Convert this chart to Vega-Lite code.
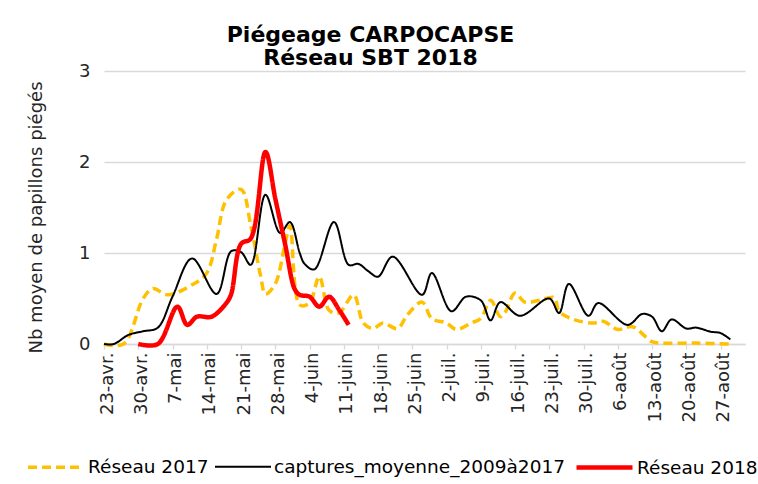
{
  "$schema": "https://vega.github.io/schema/vega-lite/v6.json",
  "autosize": {"type": "none"},
  "width": 641,
  "height": 273,
  "padding": {"left": 104, "top": 71, "right": 13, "bottom": 140},
  "background": "white",
  "config": {"view": {"stroke": null}, "font": "DejaVu Sans"},
  "title": {
    "text": ["Piégeage CARPOCAPSE", "Réseau SBT 2018"],
    "fontSize": 22,
    "fontWeight": "bold",
    "font": "DejaVu Sans",
    "color": "#000000",
    "anchor": "middle",
    "dx": -54,
    "offset": -8,
    "lineHeight": 23
  },
  "data": {
    "values": [
      {"date": "2018-04-23", "serie": "Réseau 2017", "value": 0},
      {"date": "2018-04-27", "serie": "Réseau 2017", "value": 0},
      {"date": "2018-05-01", "serie": "Réseau 2017", "value": 0.5},
      {"date": "2018-05-03", "serie": "Réseau 2017", "value": 0.61},
      {"date": "2018-05-06", "serie": "Réseau 2017", "value": 0.54},
      {"date": "2018-05-11", "serie": "Réseau 2017", "value": 0.65},
      {"date": "2018-05-14", "serie": "Réseau 2017", "value": 0.78},
      {"date": "2018-05-16", "serie": "Réseau 2017", "value": 1.15},
      {"date": "2018-05-18", "serie": "Réseau 2017", "value": 1.58},
      {"date": "2018-05-21", "serie": "Réseau 2017", "value": 1.7},
      {"date": "2018-05-23", "serie": "Réseau 2017", "value": 1.3},
      {"date": "2018-05-25", "serie": "Réseau 2017", "value": 0.75},
      {"date": "2018-05-26", "serie": "Réseau 2017", "value": 0.55},
      {"date": "2018-05-28", "serie": "Réseau 2017", "value": 0.66},
      {"date": "2018-05-30", "serie": "Réseau 2017", "value": 1.1},
      {"date": "2018-05-31", "serie": "Réseau 2017", "value": 1.3},
      {"date": "2018-06-02", "serie": "Réseau 2017", "value": 0.43},
      {"date": "2018-06-04", "serie": "Réseau 2017", "value": 0.45},
      {"date": "2018-06-06", "serie": "Réseau 2017", "value": 0.74},
      {"date": "2018-06-08", "serie": "Réseau 2017", "value": 0.37},
      {"date": "2018-06-10", "serie": "Réseau 2017", "value": 0.34},
      {"date": "2018-06-13", "serie": "Réseau 2017", "value": 0.54},
      {"date": "2018-06-15", "serie": "Réseau 2017", "value": 0.23},
      {"date": "2018-06-17", "serie": "Réseau 2017", "value": 0.17},
      {"date": "2018-06-19", "serie": "Réseau 2017", "value": 0.23},
      {"date": "2018-06-22", "serie": "Réseau 2017", "value": 0.17},
      {"date": "2018-06-24", "serie": "Réseau 2017", "value": 0.32},
      {"date": "2018-06-27", "serie": "Réseau 2017", "value": 0.46},
      {"date": "2018-06-29", "serie": "Réseau 2017", "value": 0.28},
      {"date": "2018-07-02", "serie": "Réseau 2017", "value": 0.23},
      {"date": "2018-07-04", "serie": "Réseau 2017", "value": 0.16},
      {"date": "2018-07-07", "serie": "Réseau 2017", "value": 0.23},
      {"date": "2018-07-09", "serie": "Réseau 2017", "value": 0.28},
      {"date": "2018-07-11", "serie": "Réseau 2017", "value": 0.48},
      {"date": "2018-07-13", "serie": "Réseau 2017", "value": 0.3},
      {"date": "2018-07-14", "serie": "Réseau 2017", "value": 0.35},
      {"date": "2018-07-16", "serie": "Réseau 2017", "value": 0.56},
      {"date": "2018-07-18", "serie": "Réseau 2017", "value": 0.46},
      {"date": "2018-07-21", "serie": "Réseau 2017", "value": 0.48},
      {"date": "2018-07-24", "serie": "Réseau 2017", "value": 0.51},
      {"date": "2018-07-25", "serie": "Réseau 2017", "value": 0.36},
      {"date": "2018-07-28", "serie": "Réseau 2017", "value": 0.27},
      {"date": "2018-08-01", "serie": "Réseau 2017", "value": 0.23},
      {"date": "2018-08-03", "serie": "Réseau 2017", "value": 0.25},
      {"date": "2018-08-06", "serie": "Réseau 2017", "value": 0.16},
      {"date": "2018-08-09", "serie": "Réseau 2017", "value": 0.19},
      {"date": "2018-08-13", "serie": "Réseau 2017", "value": 0.025},
      {"date": "2018-08-15", "serie": "Réseau 2017", "value": 0.01},
      {"date": "2018-08-22", "serie": "Réseau 2017", "value": 0.01},
      {"date": "2018-08-29", "serie": "Réseau 2017", "value": 0.0},

      {"date": "2018-04-23", "serie": "captures_moyenne_2009à2017", "value": 0},
      {"date": "2018-04-25", "serie": "captures_moyenne_2009à2017", "value": 0},
      {"date": "2018-04-28", "serie": "captures_moyenne_2009à2017", "value": 0.1},
      {"date": "2018-05-01", "serie": "captures_moyenne_2009à2017", "value": 0.14},
      {"date": "2018-05-04", "serie": "captures_moyenne_2009à2017", "value": 0.18},
      {"date": "2018-05-07", "serie": "captures_moyenne_2009à2017", "value": 0.52},
      {"date": "2018-05-11", "serie": "captures_moyenne_2009à2017", "value": 0.94},
      {"date": "2018-05-16", "serie": "captures_moyenne_2009à2017", "value": 0.55},
      {"date": "2018-05-19", "serie": "captures_moyenne_2009à2017", "value": 1.02},
      {"date": "2018-05-21", "serie": "captures_moyenne_2009à2017", "value": 1.01},
      {"date": "2018-05-23", "serie": "captures_moyenne_2009à2017", "value": 0.87},
      {"date": "2018-05-26", "serie": "captures_moyenne_2009à2017", "value": 1.64},
      {"date": "2018-05-29", "serie": "captures_moyenne_2009à2017", "value": 1.22},
      {"date": "2018-05-31", "serie": "captures_moyenne_2009à2017", "value": 1.34},
      {"date": "2018-06-02", "serie": "captures_moyenne_2009à2017", "value": 1.0},
      {"date": "2018-06-03", "serie": "captures_moyenne_2009à2017", "value": 0.88},
      {"date": "2018-06-05", "serie": "captures_moyenne_2009à2017", "value": 0.82},
      {"date": "2018-06-09", "serie": "captures_moyenne_2009à2017", "value": 1.34},
      {"date": "2018-06-12", "serie": "captures_moyenne_2009à2017", "value": 0.87},
      {"date": "2018-06-14", "serie": "captures_moyenne_2009à2017", "value": 0.88},
      {"date": "2018-06-16", "serie": "captures_moyenne_2009à2017", "value": 0.8},
      {"date": "2018-06-18", "serie": "captures_moyenne_2009à2017", "value": 0.74},
      {"date": "2018-06-21", "serie": "captures_moyenne_2009à2017", "value": 0.96},
      {"date": "2018-06-27", "serie": "captures_moyenne_2009à2017", "value": 0.54},
      {"date": "2018-06-29", "serie": "captures_moyenne_2009à2017", "value": 0.78},
      {"date": "2018-07-03", "serie": "captures_moyenne_2009à2017", "value": 0.36},
      {"date": "2018-07-06", "serie": "captures_moyenne_2009à2017", "value": 0.52},
      {"date": "2018-07-09", "serie": "captures_moyenne_2009à2017", "value": 0.48},
      {"date": "2018-07-11", "serie": "captures_moyenne_2009à2017", "value": 0.26},
      {"date": "2018-07-13", "serie": "captures_moyenne_2009à2017", "value": 0.46},
      {"date": "2018-07-17", "serie": "captures_moyenne_2009à2017", "value": 0.31},
      {"date": "2018-07-23", "serie": "captures_moyenne_2009à2017", "value": 0.5},
      {"date": "2018-07-25", "serie": "captures_moyenne_2009à2017", "value": 0.34},
      {"date": "2018-07-27", "serie": "captures_moyenne_2009à2017", "value": 0.66},
      {"date": "2018-07-31", "serie": "captures_moyenne_2009à2017", "value": 0.31},
      {"date": "2018-08-02", "serie": "captures_moyenne_2009à2017", "value": 0.45},
      {"date": "2018-08-08", "serie": "captures_moyenne_2009à2017", "value": 0.21},
      {"date": "2018-08-11", "serie": "captures_moyenne_2009à2017", "value": 0.33},
      {"date": "2018-08-13", "serie": "captures_moyenne_2009à2017", "value": 0.3},
      {"date": "2018-08-15", "serie": "captures_moyenne_2009à2017", "value": 0.14},
      {"date": "2018-08-17", "serie": "captures_moyenne_2009à2017", "value": 0.27},
      {"date": "2018-08-20", "serie": "captures_moyenne_2009à2017", "value": 0.17},
      {"date": "2018-08-22", "serie": "captures_moyenne_2009à2017", "value": 0.18},
      {"date": "2018-08-25", "serie": "captures_moyenne_2009à2017", "value": 0.135},
      {"date": "2018-08-27", "serie": "captures_moyenne_2009à2017", "value": 0.12},
      {"date": "2018-08-29", "serie": "captures_moyenne_2009à2017", "value": 0.05},

      {"date": "2018-04-30", "serie": "Réseau 2018", "value": 0.0},
      {"date": "2018-05-04", "serie": "Réseau 2018", "value": 0.0},
      {"date": "2018-05-08", "serie": "Réseau 2018", "value": 0.41},
      {"date": "2018-05-10", "serie": "Réseau 2018", "value": 0.21},
      {"date": "2018-05-12", "serie": "Réseau 2018", "value": 0.3},
      {"date": "2018-05-15", "serie": "Réseau 2018", "value": 0.3},
      {"date": "2018-05-18", "serie": "Réseau 2018", "value": 0.45},
      {"date": "2018-05-19", "serie": "Réseau 2018", "value": 0.55},
      {"date": "2018-05-21", "serie": "Réseau 2018", "value": 1.1},
      {"date": "2018-05-23", "serie": "Réseau 2018", "value": 1.16},
      {"date": "2018-05-26", "serie": "Réseau 2018", "value": 2.11},
      {"date": "2018-05-28", "serie": "Réseau 2018", "value": 1.6},
      {"date": "2018-05-30", "serie": "Réseau 2018", "value": 1.1},
      {"date": "2018-06-01", "serie": "Réseau 2018", "value": 0.6},
      {"date": "2018-06-02", "serie": "Réseau 2018", "value": 0.54},
      {"date": "2018-06-04", "serie": "Réseau 2018", "value": 0.52},
      {"date": "2018-06-06", "serie": "Réseau 2018", "value": 0.41},
      {"date": "2018-06-08", "serie": "Réseau 2018", "value": 0.52},
      {"date": "2018-06-10", "serie": "Réseau 2018", "value": 0.38},
      {"date": "2018-06-12", "serie": "Réseau 2018", "value": 0.21}
    ]
  },
  "encoding": {
    "x": {
      "field": "date",
      "type": "temporal",
      "scale": {
        "type": "utc",
        "domain": [
          {"year": 2018, "month": 4, "date": 23, "utc": true},
          {"year": 2018, "month": 9, "date": 1, "utc": true}
        ]
      },
      "axis": {
        "title": null,
        "grid": false,
        "values": [
          {"year": 2018, "month": 4, "date": 23, "utc": true},
          {"year": 2018, "month": 4, "date": 30, "utc": true},
          {"year": 2018, "month": 5, "date": 7, "utc": true},
          {"year": 2018, "month": 5, "date": 14, "utc": true},
          {"year": 2018, "month": 5, "date": 21, "utc": true},
          {"year": 2018, "month": 5, "date": 28, "utc": true},
          {"year": 2018, "month": 6, "date": 4, "utc": true},
          {"year": 2018, "month": 6, "date": 11, "utc": true},
          {"year": 2018, "month": 6, "date": 18, "utc": true},
          {"year": 2018, "month": 6, "date": 25, "utc": true},
          {"year": 2018, "month": 7, "date": 2, "utc": true},
          {"year": 2018, "month": 7, "date": 9, "utc": true},
          {"year": 2018, "month": 7, "date": 16, "utc": true},
          {"year": 2018, "month": 7, "date": 23, "utc": true},
          {"year": 2018, "month": 7, "date": 30, "utc": true},
          {"year": 2018, "month": 8, "date": 6, "utc": true},
          {"year": 2018, "month": 8, "date": 13, "utc": true},
          {"year": 2018, "month": 8, "date": 20, "utc": true},
          {"year": 2018, "month": 8, "date": 27, "utc": true}
        ],
        "labelExpr": "utcdate(datum.value) + '-' + ['janv.','févr.','mars','avr.','mai','juin','juil.','août','sept.','oct.','nov.','déc.'][utcmonth(datum.value)]",
        "labelAngle": -90,
        "labelFontSize": 18,
        "labelFont": "DejaVu Sans",
        "labelColor": "#262626",
        "labelPadding": 3,
        "labelOffset": 3,
        "labelOverlap": false,
        "labelFlush": false,
        "domainColor": "#d9d9d9",
        "domainWidth": 1.3,
        "tickColor": "#d9d9d9",
        "tickWidth": 1.3,
        "tickSize": 5
      }
    },
    "y": {
      "field": "value",
      "type": "quantitative",
      "scale": {"domain": [0, 3], "nice": false},
      "axis": {
        "values": [0, 1, 2, 3],
        "title": "Nb moyen de papillons piégés",
        "titleFontSize": 18,
        "titleFont": "DejaVu Sans",
        "titleFontWeight": "normal",
        "titleColor": "#262626",
        "titlePadding": 33,
        "titleY": 146,
        "labelFontSize": 18,
        "labelFont": "DejaVu Sans",
        "labelColor": "#262626",
        "labelPadding": 14,
        "domain": false,
        "ticks": false,
        "grid": true,
        "gridColor": "#d9d9d9",
        "gridWidth": 1.3
      }
    },
    "color": {
      "field": "serie",
      "type": "nominal",
      "scale": {
        "domain": ["Réseau 2017", "captures_moyenne_2009à2017", "Réseau 2018"],
        "range": ["#FFC000", "#000000", "#FF0000"]
      },
      "legend": {
        "title": null,
        "orient": "none",
        "legendX": -78,
        "legendY": 366,
        "direction": "horizontal",
        "symbolType": "stroke",
        "symbolSize": 3136,
        "labelFontSize": 18.5,
        "labelFont": "DejaVu Sans",
        "labelColor": "#000000",
        "labelLimit": 400,
        "labelOffset": 2,
        "columnPadding": 2
      }
    },
    "strokeDash": {
      "field": "serie",
      "type": "nominal",
      "scale": {
        "type": "ordinal",
        "domain": ["Réseau 2017", "captures_moyenne_2009à2017", "Réseau 2018"],
        "range": [[9, 5], [1, 0], [1, 0]]
      }
    },
    "strokeWidth": {
      "field": "serie",
      "type": "nominal",
      "scale": {
        "type": "ordinal",
        "domain": ["Réseau 2017", "captures_moyenne_2009à2017", "Réseau 2018"],
        "range": [3.5, 2, 4.5]
      }
    }
  },
  "layer": [
    {
      "transform": [{"filter": "datum.serie === 'Réseau 2017'"}],
      "mark": {"type": "line", "interpolate": "catmull-rom"}
    },
    {
      "transform": [{"filter": "datum.serie === 'captures_moyenne_2009à2017'"}],
      "mark": {"type": "line", "interpolate": "catmull-rom"}
    },
    {
      "transform": [{"filter": "datum.serie === 'Réseau 2018'"}],
      "mark": {"type": "line", "interpolate": "catmull-rom"}
    }
  ]
}
